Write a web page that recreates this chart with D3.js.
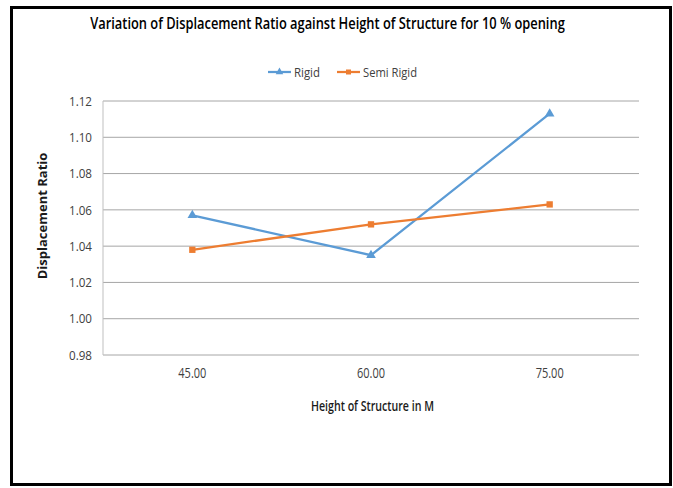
<!DOCTYPE html>
<html><head><meta charset="utf-8">
<script src="https://cdn.jsdelivr.net/npm/d3@7"></script>
<style>body{margin:0;background:#fff}svg{display:block}</style>
</head><body>
<script>
const categories = ["45.00", "60.00", "75.00"];
const rigid = [1.057, 1.035, 1.113];
const semiRigid = [1.038, 1.052, 1.063];
const yTicks = [0.98, 1.00, 1.02, 1.04, 1.06, 1.08, 1.10, 1.12];
const seriesNames = ["Rigid", "Semi Rigid"];

(function () {
const W = 673, H = 488;
const svg = d3.select("body").append("svg").attr("width", W).attr("height", H);
svg.append("rect").attr("width", W).attr("height", H).attr("fill", "#fff");
svg.append("rect").attr("x", 11.5).attr("y", 7.5).attr("width", 659).attr("height", 477)
  .attr("fill", "none").attr("stroke", "#000").attr("stroke-width", 3);

const font = "'Open Sans', sans-serif";
const pL = 103, pR = 639, pT = 101, pB = 355;
const x = d3.scaleBand().domain(categories).range([pL, pR]);
const y = d3.scaleLinear().domain([0.98, 1.12]).range([pB, pT]);

svg.append("g").selectAll("line").data(yTicks).join("line")
  .attr("x1", pL).attr("x2", pR)
  .attr("y1", d => y(d)).attr("y2", d => y(d))
  .attr("stroke", "#a6a6a6").attr("stroke-width", 1);
svg.append("line").attr("x1", pL).attr("x2", pL).attr("y1", pT).attr("y2", pB)
  .attr("stroke", "#bfbfbf");

const yAxis = d3.axisLeft(y).tickValues(yTicks).tickFormat(d3.format(".2f")).tickSize(0).tickPadding(11);
const gy = svg.append("g").attr("transform", `translate(${pL},0)`).call(yAxis);
gy.select(".domain").remove();
gy.selectAll("text").attr("font-family", font).attr("font-size", 13).attr("fill", "#404040")
  .attr("textLength", 23).attr("lengthAdjust", "spacingAndGlyphs");

const xAxis = d3.axisBottom(x).tickSize(0).tickPadding(13);
const gx = svg.append("g").attr("transform", `translate(0,${pB})`).call(xAxis);
gx.select(".domain").remove();
gx.selectAll("text").attr("font-family", font).attr("font-size", 14).attr("fill", "#404040")
  .attr("textLength", 28).attr("lengthAdjust", "spacingAndGlyphs");

const cx = d => x(d) + x.bandwidth() / 2;
const line = d3.line().x((d, i) => cx(categories[i])).y(d => y(d));

const colors = ["#5b9bd5", "#ed7d31"];
[rigid, semiRigid].forEach((vals, si) => {
  svg.append("path").datum(vals).attr("d", line).attr("fill", "none")
    .attr("stroke", colors[si]).attr("stroke-width", 2.25);
});
const tri = d3.symbol().type(d3.symbolTriangle).size(40);
const sq = d3.symbol().type(d3.symbolSquare).size(40);
svg.append("g").selectAll("path").data(rigid).join("path")
  .attr("d", tri).attr("fill", colors[0])
  .attr("transform", (d, i) => `translate(${cx(categories[i])},${y(d)})`);
svg.append("g").selectAll("path").data(semiRigid).join("path")
  .attr("d", sq).attr("fill", colors[1])
  .attr("transform", (d, i) => `translate(${cx(categories[i])},${y(d)})`);

const title = svg.append("text").attr("text-anchor", "middle")
  .attr("font-family", font).attr("font-weight", 600).attr("font-size", 16.5)
  .attr("fill", "#000").text("Variation of Displacement Ratio against Height of Structure for 10 % opening");
const tl = title.node().getComputedTextLength() || 620;
title.attr("transform", `translate(327.5,29) scale(${475 / tl},1)`);

const lg = svg.append("g");
const legendItems = [
  {x: 268, w: 26, name: seriesNames[0], c: colors[0], sym: d3.symbol().type(d3.symbolTriangle).size(25)},
  {x: 337, w: 54, name: seriesNames[1], c: colors[1], sym: d3.symbol().type(d3.symbolSquare).size(25)}];
legendItems.forEach(it => {
  lg.append("line").attr("x1", it.x).attr("x2", it.x + 23).attr("y1", 72).attr("y2", 72)
    .attr("stroke", it.c).attr("stroke-width", 2.25);
  lg.append("path").attr("d", it.sym()).attr("fill", it.c)
    .attr("transform", `translate(${it.x + 11.5},72)`);
  lg.append("text").attr("x", it.x + 26).attr("y", 77).attr("font-family", font)
    .attr("font-size", 13.5).attr("fill", "#404040")
    .attr("textLength", it.w).attr("lengthAdjust", "spacingAndGlyphs").text(it.name);
});

svg.append("text").attr("transform", "translate(47,216) rotate(-90)").attr("text-anchor", "middle")
  .attr("font-family", font).attr("font-weight", "bold").attr("font-size", 13)
  .attr("fill", "#1a1a1a").text("Displacement Ratio");
svg.append("text").attr("x", 372.5).attr("y", 411).attr("text-anchor", "middle")
  .attr("font-family", font).attr("font-weight", 600).attr("font-size", 15)
  .attr("textLength", 123).attr("lengthAdjust", "spacingAndGlyphs")
  .attr("fill", "#1a1a1a").text("Height of Structure in M");
})();
</script>
</body></html>
